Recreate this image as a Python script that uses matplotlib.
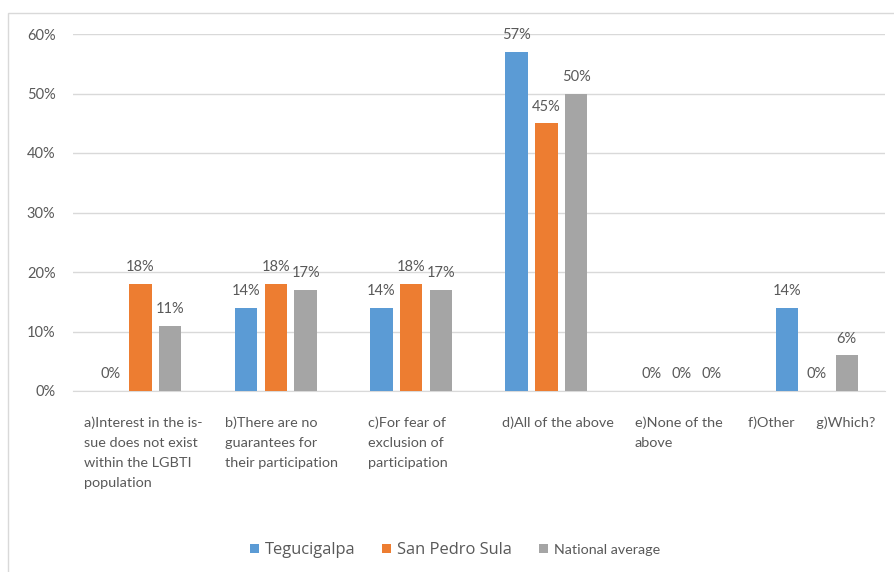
import matplotlib.pyplot as plt
import numpy as np
from matplotlib.patches import Rectangle
from matplotlib.ticker import PercentFormatter

categories = ["a)Interest in the is-\nsue does not exist\nwithin the LGBTI\npopulation",
              "b)There are no\nguarantees for\ntheir participation",
              "c)For fear of\nexclusion of\nparticipation",
              "d)All of the above",
              "e)None of the\nabove",
              "f)Other      g)Which?"]
tegucigalpa = [0, 14, 14, 57, 0, 14]
san_pedro = [18, 18, 18, 45, 0, 0]
national = [11, 17, 17, 50, 0, 6]
series_names = ["Tegucigalpa", "San Pedro Sula", "National average"]
colors = ["#5B9BD5", "#ED7D31", "#A5A5A5"]

# left edge of each wrapped label, in pixels from the group centre
label_dx = [-56.5, -50.8, -43, -44.4, -46.7, -69]

plt.rcParams['font.family'] = ['Lato', 'DejaVu Sans']
text_col = "#595959"

fig = plt.figure(figsize=(8.94, 5.72), dpi=100)
ax = fig.add_axes([72.85/894, 1-391/572, 811.8/894, 357/572])

x = np.arange(len(categories))
step = 0.22
width = 0.166
for i, (vals, name, c) in enumerate(zip([tegucigalpa, san_pedro, national], series_names, colors)):
    pos = x + (i - 1) * step
    ax.bar(pos, vals, width, color=c, label=name, zorder=3)
    for px, v in zip(pos, vals):
        ax.annotate(f"{v}%", (px, v), xytext=(0, 7), textcoords="offset points",
                    ha="center", va="bottom", fontsize=10.5, color=text_col)

ax.set_xlim(-0.5, len(categories) - 0.5)
ax.set_ylim(0, 60)
ax.set_yticks(np.arange(0, 61, 10))
ax.yaxis.set_major_formatter(PercentFormatter(decimals=0))
ax.tick_params(axis='y', length=0, labelsize=10.5, labelcolor=text_col, pad=12.5)
ax.set_xticks([])
ax.grid(axis='y', color="#D9D9D9", linewidth=1, zorder=0)
for s in ["top", "right", "left"]:
    ax.spines[s].set_visible(False)
ax.spines["bottom"].set_color("#D9D9D9")

for xi, lab, dx in zip(x, categories, label_dx):
    ax.annotate(lab, (xi, -4.3), xytext=(dx, 0), textcoords="offset pixels",
                ha="left", va="top", fontsize=10.4, color=text_col, linespacing=1.78,
                annotation_clip=False)

leg = fig.legend(loc="center", bbox_to_anchor=(455/894, 1-550/572), ncol=3, frameon=False,
                 fontsize=11, handlelength=0.6, handleheight=0.6, handletextpad=0.4,
                 columnspacing=1.75)
for j, t in enumerate(leg.get_texts()):
    t.set_color(text_col)
    if j < 2:
        t.set_fontfamily(['Open Sans', 'DejaVu Sans'])
        t.set_fontsize(11.9)
    else:
        t.set_fontsize(10.3)

fig.patches.append(Rectangle((8/894, -0.01), 1.0, 1 - 13/572 + 0.01, transform=fig.transFigure,
                             fill=False, edgecolor="#D9D9D9", linewidth=1))

fig.savefig("out.png", dpi=100)
